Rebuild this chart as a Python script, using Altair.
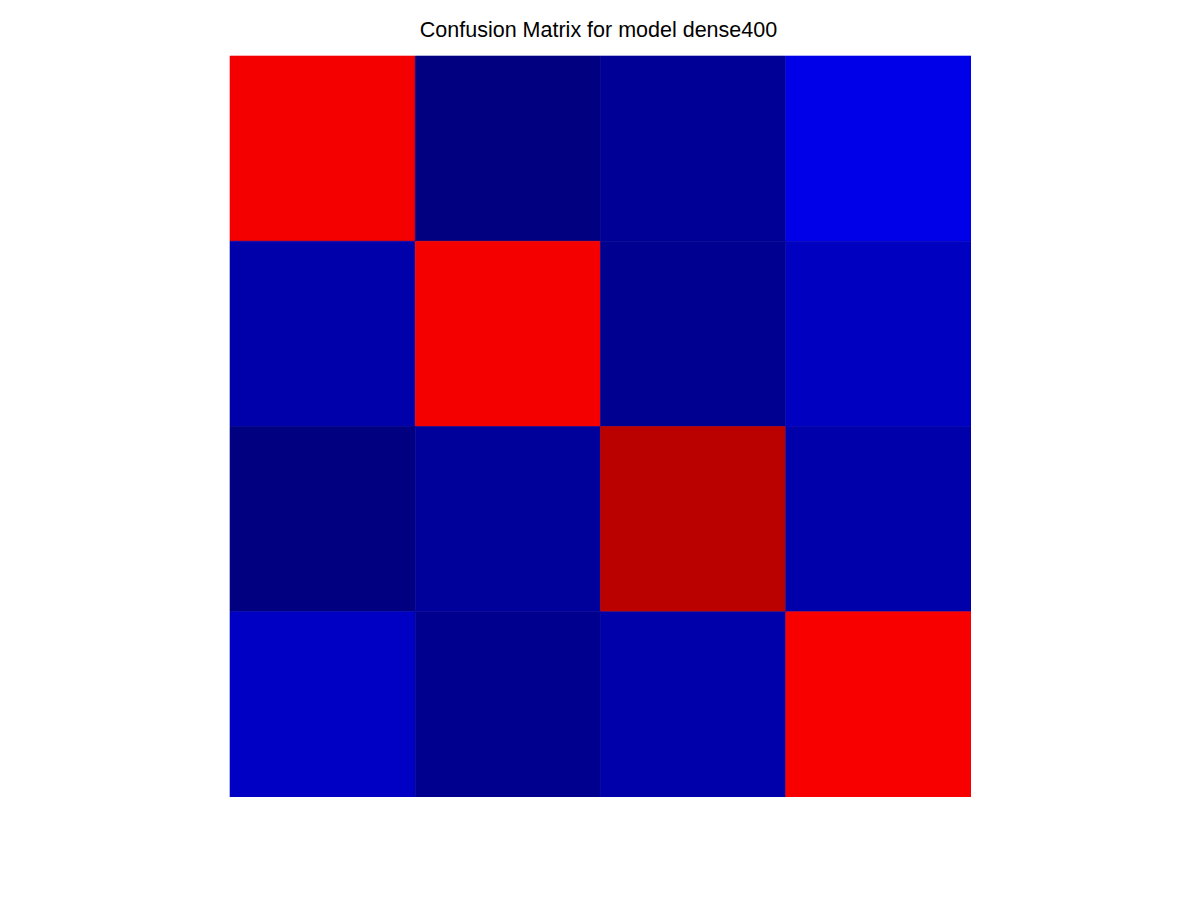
import altair as alt
import pandas as pd

rows = [0, 1, 2, 3]
cols = [0, 1, 2, 3]
# colour level of each cell on a jet colormap (0 = dark blue, 1 = dark red), row by row
level_row0 = [0.885, 0.000, 0.022, 0.102]
level_row1 = [0.042, 0.885, 0.016, 0.063]
level_row2 = [-0.002, 0.026, 0.942, 0.042]
level_row3 = [0.067, 0.014, 0.042, 0.882]
levels = [level_row0, level_row1, level_row2, level_row3]

records = []
for r in rows:
    for c in cols:
        records.append({"row": r, "col": c, "level": levels[r][c]})
df = pd.DataFrame(records)

jet_stops = [0, 0.125, 0.375, 0.625, 0.875, 1.0]
jet_colors = ["#000080", "#0000ff", "#00ffff", "#ffff00", "#ff0000", "#800000"]
jet_scale = alt.Scale(domain=jet_stops, range=jet_colors, clamp=True, interpolate="rgb")

chart = alt.Chart(df).mark_rect(strokeWidth=0.6).encode(
    x=alt.X("col:O", axis=None, scale=alt.Scale(paddingInner=0, paddingOuter=0)),
    y=alt.Y("row:O", axis=None, scale=alt.Scale(paddingInner=0, paddingOuter=0)),
    color=alt.Color("level:Q", legend=None, scale=jet_scale),
    stroke=alt.Stroke("level:Q", legend=None, scale=jet_scale),
).properties(
    width=741,
    height=741,
    title=alt.TitleParams("Confusion Matrix for model dense400", font="Liberation Sans",
                          fontSize=21.5, fontWeight="normal", color="black", anchor="middle",
                          offset=14, dx=-2),
    autosize=alt.AutoSizeParams(type="none"),
    padding={"left": 230, "top": 56, "right": 0, "bottom": 0},
).configure_view(stroke=None)

chart.save("out.html", embed_options={"renderer": "svg", "actions": False})
